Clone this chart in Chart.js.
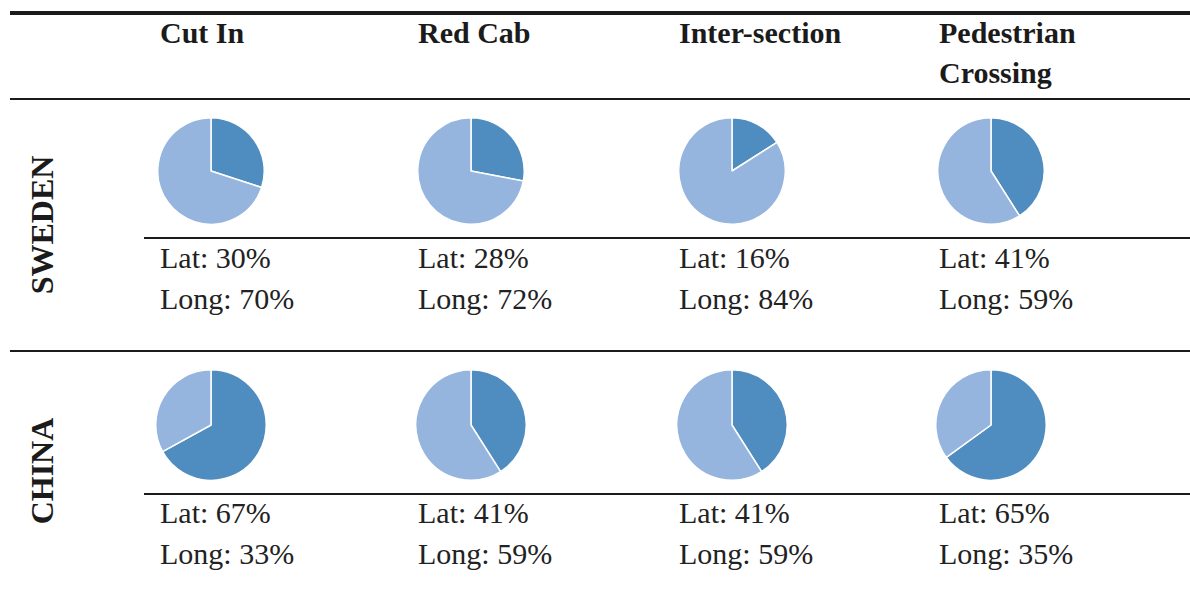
<!DOCTYPE html>
<html>
<head>
<meta charset="utf-8">
<script src="https://cdn.jsdelivr.net/npm/chart.js@4/dist/chart.umd.min.js"></script>
<style>
  body { margin:0; background:#fff; width:1190px; height:590px; position:relative; overflow:hidden;
         font-family:"Liberation Serif","Times New Roman",serif; color:#1b1b1b; }
  .rule { position:absolute; background:#1b1b1b; right:0; }
  .head { position:absolute; width:240px; font-weight:bold; font-size:30px; line-height:40px; }
  .txt { position:absolute; font-size:30px; line-height:30px; white-space:nowrap; color:#222; }
  .row { position:absolute; width:200px; height:40px; line-height:40px; text-align:center;
         font-weight:bold; font-size:32px; transform:rotate(-90deg); }
  canvas { position:absolute; }
</style>
</head>
<body>
<div class="rule" style="left:10px;top:11px;height:4px"></div>
<div class="rule" style="left:10px;top:98px;height:2px"></div>
<div class="rule" style="left:144px;top:237px;height:2px"></div>
<div class="rule" style="left:10px;top:350px;height:2px"></div>
<div class="rule" style="left:144px;top:493px;height:2px"></div>

<script>
// chart data
var categories = ['Cut In', 'Red Cab', 'Inter-section', 'Pedestrian Crossing'];
var regions = ['SWEDEN', 'CHINA'];
var swedenLat = [30, 28, 16, 41];
var swedenLong = [70, 72, 84, 59];
var chinaLat = [67, 41, 41, 65];
var chinaLong = [33, 59, 59, 35];

var colX = [160, 418, 679, 939];
var pieX = [211, 471, 732, 991];
var rows = [
  { name: regions[0], lat: swedenLat, lng: swedenLong, cy: 171, r: 53, textY: 243, labelY: 225 },
  { name: regions[1], lat: chinaLat, lng: chinaLong, cy: 425, r: 55, textY: 498, labelY: 471 }
];

function addDiv(cls, text, left, top) {
  var d = document.createElement('div');
  d.className = cls;
  d.textContent = text;
  d.style.left = left + 'px';
  d.style.top = top + 'px';
  document.body.appendChild(d);
  return d;
}

// header
for (var i = 0; i < categories.length; i++) {
  addDiv('head', categories[i], colX[i], 13);
}

for (var r = 0; r < rows.length; r++) {
  var row = rows[r];
  // rotated row label
  addDiv('row', row.name, 41.5 - 100, row.labelY - 20);

  for (var i = 0; i < categories.length; i++) {
    addDiv('txt', 'Lat: ' + row.lat[i] + '%', colX[i], row.textY);
    addDiv('txt', 'Long: ' + row.lng[i] + '%', colX[i], row.textY + 41);

    var size = row.r * 2 + 2;
    var cv = document.createElement('canvas');
    cv.width = size;
    cv.height = size;
    cv.style.left = (pieX[i] - size / 2) + 'px';
    cv.style.top = (row.cy - size / 2) + 'px';
    document.body.appendChild(cv);

    new Chart(cv.getContext('2d'), {
      type: 'pie',
      data: {
        labels: ['Lat', 'Long'],
        datasets: [{
          data: [row.lat[i], row.lng[i]],
          backgroundColor: ['#4f8cbf', '#95b5df'],
          borderColor: '#ffffff',
          borderWidth: 1.5
        }]
      },
      options: {
        responsive: false,
        animation: false,
        layout: { padding: 0 },
        plugins: { legend: { display: false }, tooltip: { enabled: false } }
      }
    });
  }
}
</script>
</body>
</html>
